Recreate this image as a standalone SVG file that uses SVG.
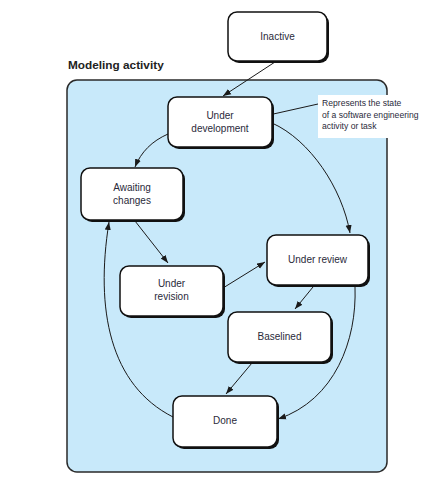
<svg xmlns="http://www.w3.org/2000/svg" width="431" height="484" viewBox="0 0 431 484">
<defs>
<marker id="ah" viewBox="0 0 10 10" refX="10" refY="5" markerWidth="8" markerHeight="8" markerUnits="userSpaceOnUse" orient="auto">
<path d="M0,1.2 L10,5 L0,8.8 Z" fill="#1a1a1a"/>
</marker>
</defs>
<style>
.shadow{fill:#111;}
.box{fill:#fff;stroke:#111;stroke-width:1.5;}
.lbl{font-family:"Liberation Sans",Arial,sans-serif;font-size:10px;fill:#2a2a3a;text-anchor:middle;}
.conn{fill:none;stroke:#1a1a1a;stroke-width:1;}
.note{font-family:"Liberation Sans",Arial,sans-serif;font-size:8.6px;fill:#2a2a3a;}
</style>
<rect width="431" height="484" fill="#fff"/>
<g id="container">
<rect x="67" y="80" width="320" height="392" rx="10" ry="10" fill="#c8e9fa" stroke="#2a2a2a" stroke-width="1.5"/>
<text x="68" y="69" font-family="Liberation Sans,Arial,sans-serif" font-weight="bold" font-size="11.8" fill="#222">Modeling activity</text>
</g>
<g id="note">
<rect x="318" y="95" width="106" height="43" fill="#fff"/>
<text class="note" x="322" y="106">Represents the state</text>
<text class="note" x="322" y="117.5">of a software engineering</text>
<text class="note" x="322" y="129">activity or task</text>
</g>
<g id="connectors">
<line class="conn" x1="318" y1="104" x2="260" y2="117"/>
<path class="conn" d="M275,62 L223,96" marker-end="url(#ah)"/>
<path class="conn" d="M168,134 C152,141 141,152 135,167" marker-end="url(#ah)"/>
<path class="conn" d="M272,123 C310,140 342,188 350,233" marker-end="url(#ah)"/>
<path class="conn" d="M135,221 L168,263" marker-end="url(#ah)"/>
<path class="conn" d="M223,288 L265,262" marker-end="url(#ah)"/>
<path class="conn" d="M313,287 L295,309" marker-end="url(#ah)"/>
<path class="conn" d="M252,363 L226,394" marker-end="url(#ah)"/>
<path class="conn" d="M355,287 C357,340 335,400 278,419" marker-end="url(#ah)"/>
<path class="conn" d="M173,417 C110,385 95,310 109,222" marker-end="url(#ah)"/>
</g>
<g id="inactive">
<rect class="shadow" x="230" y="14" width="99" height="49" rx="9"/>
<rect class="box" x="228" y="12" width="99" height="49" rx="9"/>
<text class="lbl" x="277.5" y="40">Inactive</text>
</g>
<g id="under-development">
<rect class="shadow" x="170" y="99" width="104" height="50" rx="9"/>
<rect class="box" x="168" y="97" width="104" height="50" rx="9"/>
<text class="lbl" x="220" y="119">Under</text>
<text class="lbl" x="220" y="132">development</text>
</g>
<g id="awaiting-changes">
<rect class="shadow" x="83" y="170" width="102" height="52" rx="9"/>
<rect class="box" x="81" y="168" width="102" height="52" rx="9"/>
<text class="lbl" x="132" y="191">Awaiting</text>
<text class="lbl" x="132" y="204">changes</text>
</g>
<g id="under-revision">
<rect class="shadow" x="122" y="268" width="103" height="50" rx="9"/>
<rect class="box" x="120" y="266" width="103" height="50" rx="9"/>
<text class="lbl" x="171.5" y="287">Under</text>
<text class="lbl" x="171.5" y="300">revision</text>
</g>
<g id="under-review">
<rect class="shadow" x="269" y="237" width="101" height="50" rx="9"/>
<rect class="box" x="267" y="235" width="101" height="50" rx="9"/>
<text class="lbl" x="317.5" y="263">Under review</text>
</g>
<g id="baselined">
<rect class="shadow" x="230" y="314" width="103" height="50" rx="9"/>
<rect class="box" x="228" y="312" width="103" height="50" rx="9"/>
<text class="lbl" x="279.5" y="340">Baselined</text>
</g>
<g id="done">
<rect class="shadow" x="175" y="398" width="104" height="51" rx="9"/>
<rect class="box" x="173" y="396" width="104" height="51" rx="9"/>
<text class="lbl" x="225" y="424">Done</text>
</g>
</svg>
